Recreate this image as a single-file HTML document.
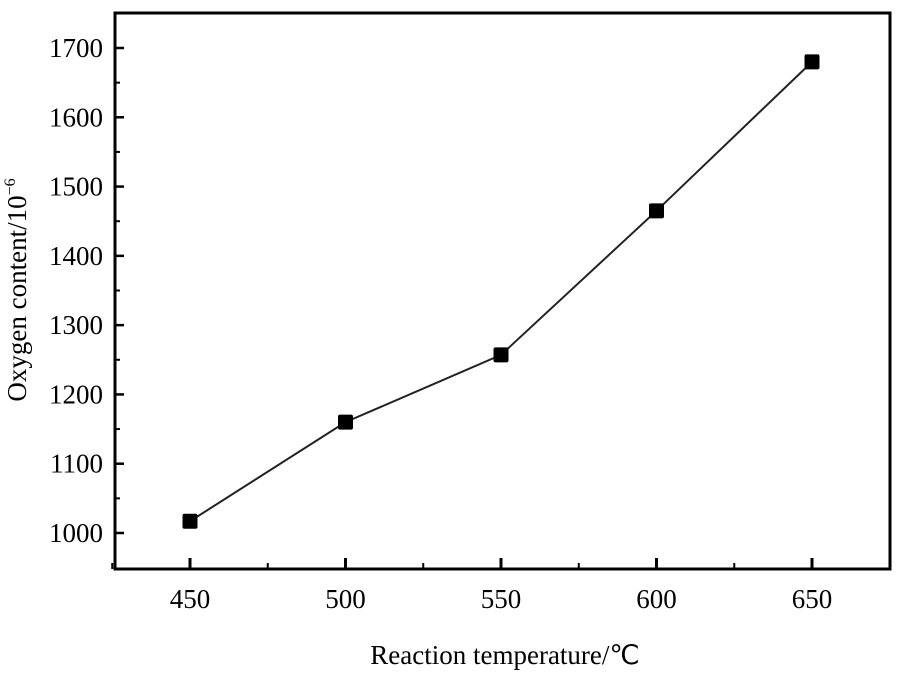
<!DOCTYPE html>
<html><head><meta charset="utf-8"><style>
html,body{margin:0;padding:0;background:#fff;}
svg{display:block;}
text{font-family:"Liberation Serif",serif;fill:#000;}
</style></head><body>
<svg id="chart" width="900" height="676">
<rect x="115" y="13" width="775" height="556" fill="none" stroke="#000" stroke-width="3"/>
<g id="ticks"></g>
<g id="series"></g>
<text x="505" y="664" font-size="27" text-anchor="middle">Reaction temperature/℃</text>
<text transform="translate(26,290) rotate(-90)" font-size="27" text-anchor="middle">Oxygen content/10<tspan font-size="16" dy="-11">−6</tspan></text>
</svg>
<script>
const categories=[450,500,550,600,650];
const values=[1017,1160,1257,1465,1680];
const yTicks=[1000,1100,1200,1300,1400,1500,1600,1700];
const xTicks=[450,500,550,600,650];
function xs(v){return 190+(v-450)*(812-190)/200;}
function ys(v){return 533-(v-1000)*(533-48)/700;}
const NS="http://www.w3.org/2000/svg";
const tg=document.getElementById('ticks');
const sg=document.getElementById('series');
function mk(t,a,p){const e=document.createElementNS(NS,t);for(const k in a)e.setAttribute(k,a[k]);p.appendChild(e);return e;}
yTicks.forEach(v=>{
const l=mk('line',{x1:115,x2:124,y1:ys(v),y2:ys(v),stroke:'#000','stroke-width':2.5},tg);


const m=mk('line',{x1:115,x2:120,y1:ys(v+50),y2:ys(v+50),stroke:'#000','stroke-width':2},tg);


const t=mk('text',{x:103,y:ys(v)+9,'font-size':27,'text-anchor':'end'},tg);t.textContent=v;


});
xTicks.forEach(v=>{
const l=mk('line',{x1:xs(v),x2:xs(v),y1:569,y2:558,stroke:'#000','stroke-width':3},tg);


const t=mk('text',{x:xs(v),y:608,'font-size':27,'text-anchor':'middle'},tg);t.textContent=v;


});
[425,475,525,575,625,675].forEach(v=>{
const m=mk('line',{x1:xs(v),x2:xs(v),y1:569,y2:563,stroke:'#000','stroke-width':2},tg);


});
const pl=mk('polyline',{points:categories.map((c,i)=>xs(c)+','+ys(values[i])).join(' '),fill:'none',stroke:'#222','stroke-width':2},sg);


categories.forEach((c,i)=>{
const r=mk('rect',{x:xs(c)-7.5,y:ys(values[i])-7.5,width:15,height:15,rx:2,fill:'#000'},sg);


});
</script>
</body></html>
